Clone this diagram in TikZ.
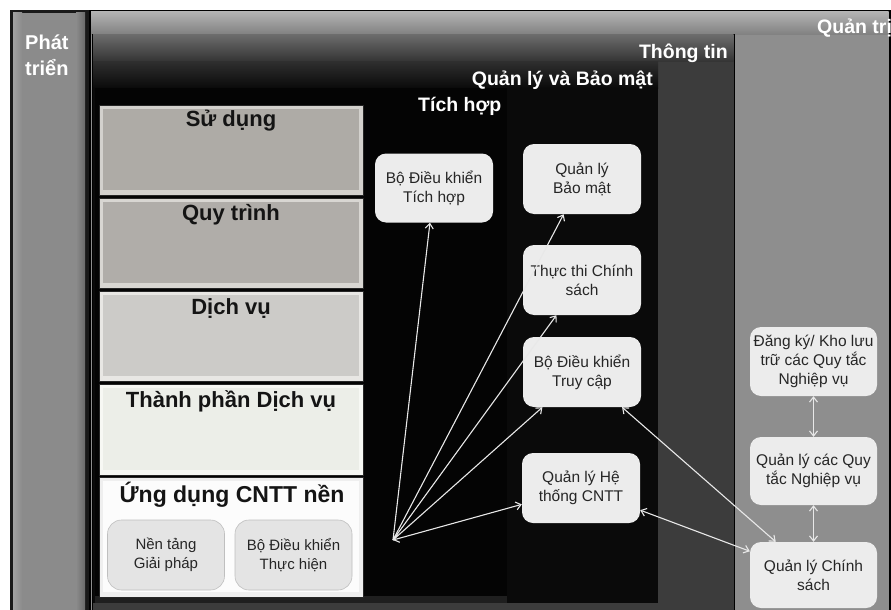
\documentclass[tikz,border=0pt]{standalone}
\usepackage{fontspec}
\setmainfont{Liberation Sans}
\usetikzlibrary{arrows.meta}

\definecolor{devmain}{HTML}{8B8B8B}
\definecolor{devlight}{HTML}{A2A2A2}
\definecolor{devdark}{HTML}{6A6A6A}
\definecolor{adminbody}{HTML}{8E8E8E}
\definecolor{infobody}{HTML}{3C3C3C}
\definecolor{secbody}{HTML}{0A0A0A}
\definecolor{intbody}{HTML}{040404}
\definecolor{useMain}{HTML}{AEABA6}
\definecolor{useBevel}{HTML}{D3D1CD}
\definecolor{procMain}{HTML}{B0ADA9}
\definecolor{procBevel}{HTML}{D8D6D2}
\definecolor{svcMain}{HTML}{CCCBC8}
\definecolor{svcBevel}{HTML}{E8E7E4}
\definecolor{compMain}{HTML}{ECEEE8}
\definecolor{compBevel}{HTML}{F7F8F4}
\definecolor{appMain}{HTML}{FCFCFC}
\definecolor{appBevel}{HTML}{EFEFEF}
\definecolor{boxfill}{HTML}{ECECEC}
\definecolor{boxtext}{HTML}{262626}
\definecolor{subfill}{HTML}{E4E4E4}
\definecolor{linkcol}{HTML}{E8E8E8}

\begin{document}
\begin{tikzpicture}[x=1pt, y=-1pt,
  title/.style={text=white, font=\bfseries\fontsize{19.5}{23}\selectfont, inner sep=0pt},
  heading/.style={text=black!92, font=\bfseries\fontsize{22}{26}\selectfont, inner sep=0pt},
  layerbox/.style 2 args={draw=black!85, line width=0.8pt, fill=#2, anchor=north west,
    minimum width=264pt, inner sep=0pt, outer sep=0pt,
    path picture={\fill[#1] ([shift={(4pt,-4pt)}]path picture bounding box.north west)
      rectangle ([shift={(-4pt,5pt)}]path picture bounding box.south east);}},
  rbox/.style={rectangle, rounded corners=11pt, fill=boxfill, text=boxtext, align=center,
    font=\fontsize{15.5}{19}\selectfont, minimum width=118pt, minimum height=70pt, inner sep=2pt},
  wbox/.style={rbox, minimum width=127pt, minimum height=68pt},
  subbox/.style={rectangle, rounded corners=14pt, fill=subfill, draw=black!25, line width=0.6pt,
    text=boxtext, align=center, font=\fontsize{15}{19}\selectfont,
    minimum width=117pt, minimum height=70pt, inner sep=2pt},
  link/.style={draw=linkcol, line width=1.1pt, -{Straight Barb[length=5pt,width=8pt]}},
  link2/.style={draw=linkcol, line width=1.1pt,
    {Straight Barb[length=5pt,width=8pt]}-{Straight Barb[length=5pt,width=8pt]}},
]
\useasboundingbox (0,0) rectangle (891,610);

% development column on the left
\fill[black!90] (10,10) rectangle (89,612);
\fill[devmain] (13,13) rectangle (85,612);
\shade[left color=devlight, right color=devmain] (13,13) rectangle (22,612);
\shade[left color=devmain, right color=devdark] (76,13) rectangle (85,612);
\node[title, font=\bfseries\fontsize{20}{26}\selectfont, align=left, anchor=west] (dev) at (25,55) {Phát\\triển};

% administration panel
\fill[black] (89,10) rectangle (891,612);
\fill[adminbody] (91,12) rectangle (888.5,612);
\shade[top color=black!30, bottom color=black!50] (91,12) rectangle (888.5,35);

% information panel
\fill[black] (92,34) rectangle (735,612);
\fill[infobody] (93,35) rectangle (733.5,612);
\shade[top color=black!58, bottom color=black!80] (93,35) rectangle (733.5,62);

% management and security panel
\fill[secbody] (93,62) rectangle (658,603);
\shade[top color=black!82, bottom color=secbody] (93,62) rectangle (658,88);

% integration panel
\fill[intbody] (95,88) rectangle (507,596);
\fill[black!88] (95,596) rectangle (507,603);

% panel titles
\node[title, anchor=west] (adminT) at (817,28) {Quản trị};
\node[title, anchor=east] (infoT) at (728,53) {Thông tin};
\node[title, anchor=east] (secT) at (653,80) {Quản lý và Bảo mật};
\node[title, anchor=west] (intT) at (418,106) {Tích hợp};

% layered stack
\node[layerbox={useMain}{useBevel}, minimum height=90pt] (use) at (99,105) {};
\node[heading] (useT) at (231,121) {Sử dụng};
\node[layerbox={procMain}{procBevel}, minimum height=90pt] (proc) at (99,198) {};
\node[heading] (procT) at (231,215) {Quy trình};
\node[layerbox={svcMain}{svcBevel}, minimum height=90pt] (svc) at (99,291) {};
\node[heading] (svcT) at (231,308) {Dịch vụ};
\node[layerbox={compMain}{compBevel}, minimum height=91pt] (comp) at (99,384) {};
\node[heading] (compT) at (231,401) {Thành phần Dịch vụ};
\node[layerbox={appMain}{appBevel}, minimum height=120pt] (app) at (99,477) {};
\node[heading, font=\bfseries\fontsize{23}{27}\selectfont] (appT) at (232,495) {Ứng dụng CNTT nền};
\node[subbox] (platform) at (166,555) {Nền tảng\\Giải pháp};
\node[subbox] (exec) at (293.5,555) {Bộ Điều khiển\\Thực hiện};

% component boxes
\node[rbox, minimum height=69pt] (intctl) at (434,188) {Bộ Điều khiển\\Tích hợp};
\node[rbox] (secmgr) at (582,179) {Quản lý\\Bảo mật};
\node[rbox] (enforce) at (582,280) {Thực thi Chính\\sách};
\node[rbox] (access) at (582,372) {Bộ Điều khiển\\Truy cập};
\node[rbox] (itmgr) at (581,488) {Quản lý Hệ\\thống CNTT};
\node[wbox, minimum height=69pt] (registry) at (813.5,361.5) {Đăng ký/ Kho lưu\\trữ các Quy tắc\\Nghiệp vụ};
\node[wbox] (rules) at (813.5,471) {Quản lý các Quy\\tắc Nghiệp vụ};
\node[wbox, minimum height=66pt] (policy) at (813.5,575) {Quản lý Chính\\sách};

% connectors
\coordinate (hub) at (393,540);
\draw[link] (hub) -- (intctl);
\draw[link] (hub) -- (secmgr);
\draw[link] (hub) -- (enforce);
\draw[link] (hub) -- (access);
\draw[link2] (hub) -- (itmgr);
\draw[link2] (access) -- (policy);
\draw[link2] (itmgr) -- (policy);
\draw[link2] (registry) -- (rules);
\draw[link2] (rules) -- (policy);
\end{tikzpicture}
\end{document}
